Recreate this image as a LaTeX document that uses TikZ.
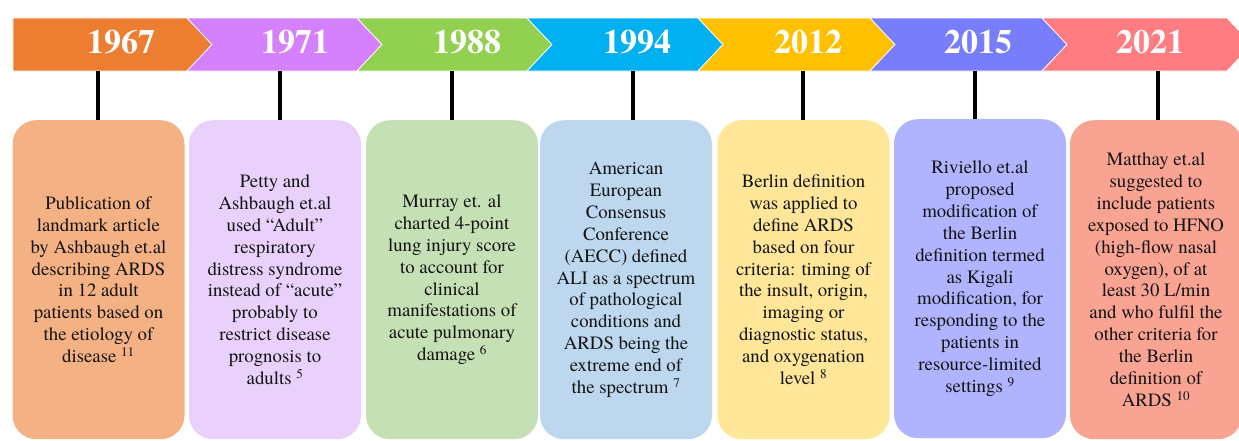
\documentclass[tikz,border=0pt]{standalone}
\usepackage{fontspec}
\setmainfont{TeX Gyre Termes}
\definecolor{a1}{HTML}{ED7D31}
\definecolor{a2}{HTML}{D580FC}
\definecolor{a3}{HTML}{92D050}
\definecolor{a4}{HTML}{00B0F0}
\definecolor{a5}{HTML}{FFC000}
\definecolor{a6}{HTML}{787DFC}
\definecolor{a7}{HTML}{FF7C80}
\definecolor{b1}{HTML}{F4B183}
\definecolor{b2}{HTML}{E9D1FC}
\definecolor{b3}{HTML}{C5E0B4}
\definecolor{b4}{HTML}{BDD7EE}
\definecolor{b5}{HTML}{FFE699}
\definecolor{b6}{HTML}{B0B3FD}
\definecolor{b7}{HTML}{F9A393}
\begin{document}
\begin{tikzpicture}[x=1pt,y=-1pt,
  year/.style={font=\bfseries\fontsize{34}{34}\selectfont, text=white, inner sep=0pt},
  card/.style={rounded corners=24pt, minimum width=172pt, minimum height=319pt, align=center,
    font=\rmfamily\fontsize{18.8}{21.9}\selectfont, text=black!92, inner sep=0pt, anchor=north,
    execute at begin node={\rule{0pt}{32pt}}},
  flatcard/.style={card, execute at begin node={}},
  band/.style={draw=white, line width=0.7pt},
  stem/.style={line width=4pt, black}]
\useasboundingbox (0,0) rectangle (1239,440);
\clip (0,0) rectangle (1239,440);
% chevron band
\filldraw[band, fill=a1] (13,18) -- (187,18) -- (212,44.5) -- (187,71) -- (13,71) -- cycle;
\filldraw[band, fill=a2] (187,18) -- (357,18) -- (382,44.5) -- (357,71) -- (187,71) -- (212,44.5) -- cycle;
\filldraw[band, fill=a3] (357,18) -- (527,18) -- (552,44.5) -- (527,71) -- (357,71) -- (382,44.5) -- cycle;
\filldraw[band, fill=a4] (527,18) -- (698,18) -- (723,44.5) -- (698,71) -- (527,71) -- (552,44.5) -- cycle;
\filldraw[band, fill=a5] (698,18) -- (870,18) -- (895,44.5) -- (870,71) -- (698,71) -- (723,44.5) -- cycle;
\filldraw[band, fill=a6] (870,18) -- (1042,18) -- (1067,44.5) -- (1042,71) -- (870,71) -- (895,44.5) -- cycle;
\filldraw[band, fill=a7] (1042,18) -- (1227,18) -- (1252,44.5) -- (1227,71) -- (1042,71) -- (1067,44.5) -- cycle;
% years
\node[year] (y1) at (121,42.5) {1967};
\node[year] (y2) at (295,42.5) {1971};
\node[year] (y3) at (467,42.5) {1988};
\node[year] (y4) at (637,42.5) {1994};
\node[year] (y5) at (808,42.5) {2012};
\node[year] (y6) at (978,42.5) {2015};
\node[year] (y7) at (1150,42.5) {2021};
% cards
\node[card, fill=b1] (b1) at (98.5,120) {Publication of\\landmark article\\by Ashbaugh et.al\\describing ARDS\\in 12 adult\\patients based on\\the etiology of\\disease \textsuperscript{11}};
\node[card, fill=b2] (b2) at (275,120) {Petty and\\Ashbaugh et.al\\used “Adult”\\respiratory\\distress syndrome\\instead of “acute”\\probably to\\restrict disease\\prognosis to\\adults \textsuperscript{5}};
\node[card, fill=b3] (b3) at (452,120) {Murray et. al\\charted 4-point\\lung injury score\\to account for\\clinical\\manifestations of\\acute pulmonary\\damage \textsuperscript{6}};
\node[card, fill=b4] (b4) at (626,120) {American\\European\\Consensus\\Conference\\(AECC) defined\\ALI as a spectrum\\of pathological\\conditions and\\ARDS being the\\extreme end of\\the spectrum \textsuperscript{7}};
\node[card, fill=b5] (b5) at (803.5,120) {Berlin definition\\was applied to\\define ARDS\\based on four\\criteria: timing of\\the insult, origin,\\imaging or\\diagnostic status,\\and oxygenation\\level \textsuperscript{8}};
\node[card, fill=b6] (b6) at (980,119) {Riviello et.al\\proposed\\modification of\\the Berlin\\definition termed\\as Kigali\\modification, for\\responding to the\\patients in\\resource-limited\\settings \textsuperscript{9}};
\node[flatcard, fill=b7] (b7) at (1156,120) {Matthay et.al\\suggested to\\include patients\\exposed to HFNO\\(high-flow nasal\\oxygen), of at\\least 30 L/min\\and who fulfil the\\other criteria for\\the Berlin\\definition of\\ARDS \textsuperscript{10}};
% stems
\coordinate (s1) at (98,71);
\coordinate (s2) at (280,71);
\coordinate (s3) at (452,71);
\coordinate (s4) at (633,71);
\coordinate (s5) at (803,71);
\coordinate (s6) at (975,71);
\coordinate (s7) at (1158,71);
\draw[stem] (s1) -- (s1 |- b1.north);
\draw[stem] (s2) -- (s2 |- b2.north);
\draw[stem] (s3) -- (s3 |- b3.north);
\draw[stem] (s4) -- (s4 |- b4.north);
\draw[stem] (s5) -- (s5 |- b5.north);
\draw[stem] (s6) -- (s6 |- b6.north);
\draw[stem] (s7) -- (s7 |- b7.north);
\end{tikzpicture}
\end{document}
